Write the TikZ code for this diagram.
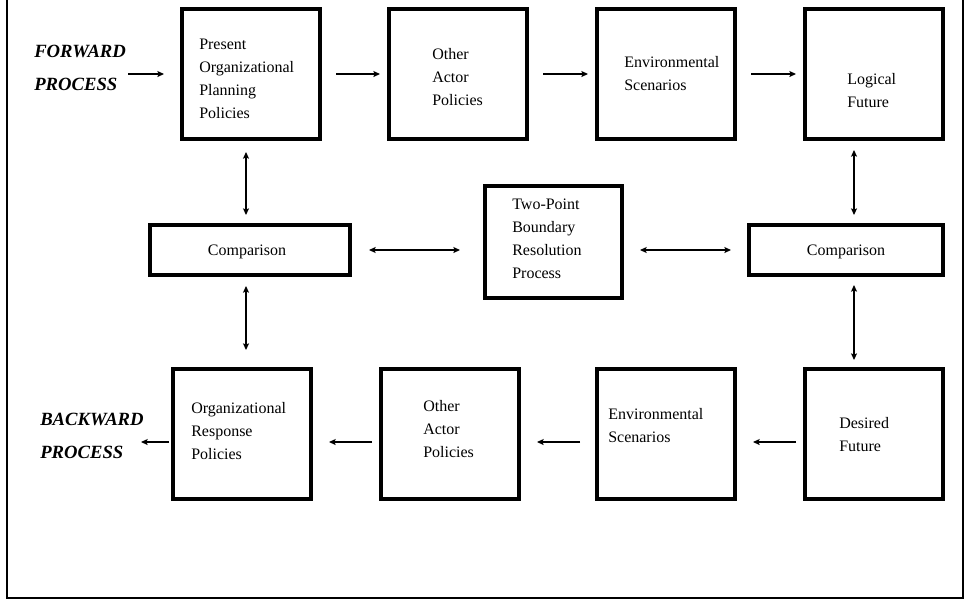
\documentclass[tikz,border=0pt]{standalone}
\usepackage{fontspec}
\setmainfont{Liberation Serif}
\usetikzlibrary{arrows.meta,calc}

\begin{document}
\begin{tikzpicture}[
  x=0.75pt, y=-0.75pt,
  box/.style={draw, line width=3pt, inner sep=0pt},
  tallbox/.style={box, minimum width=103.5pt, minimum height=97.5pt},
  txt/.style={anchor=north west, inner sep=0pt, align=left,
              font=\fontsize{12}{17.25}\selectfont},
  cmptxt/.style={anchor=base, inner sep=0pt, font=\fontsize{12}{14}\selectfont},
  proclbl/.style={anchor=north west, inner sep=0pt, align=left,
                  font=\fontsize{14}{25}\selectfont\bfseries\itshape},
  tip/.tip={Stealth[length=5pt,width=4.5pt,inset=1pt]},
  arr/.style={line width=0.8pt, -tip},
  darr/.style={line width=0.8pt, tip-tip}
]
\useasboundingbox (0,0) rectangle (966,601);

% outer frame (open at the top)
\draw[line width=1.5pt] (7,0) -- (7,598) -- (963,598) -- (963,0);

% forward process row
\node[tallbox] (B1) at (251,74) {};
\node[tallbox] (B2) at (458,74) {};
\node[tallbox] (B3) at (666,74) {};
\node[tallbox] (B4) at (874,74) {};
\node[txt] (tB1) at (199,39) {Present\\Organizational\\Planning\\Policies};
\node[txt] (tB2) at (432,48) {Other\\Actor\\Policies};
\node[txt] (tB3) at (624,56) {Environmental\\Scenarios};
\node[txt] (tB4) at (847,73) {Logical\\Future};

% comparison row
\node[box, minimum width=150pt, minimum height=37.5pt] (CL) at (250,250) {};
\node[box, minimum width=102.75pt, minimum height=84pt] (TP) at (553.5,242) {};
\node[box, minimum width=145.5pt, minimum height=37.5pt] (CR) at (846,250) {};
\node[cmptxt] (tCL) at (247,255) {Comparison};
\node[txt] (tTP) at (512,199) {Two-Point\\Boundary\\Resolution\\Process};
\node[cmptxt] (tCR) at (846,255) {Comparison};

% backward process row
\node[tallbox] (D1) at (242,434) {};
\node[tallbox] (D2) at (450,434) {};
\node[tallbox] (D3) at (666,434) {};
\node[tallbox] (D4) at (874,434) {};
\node[txt] (tD1) at (191,402) {Organizational\\Response\\Policies};
\node[txt] (tD2) at (423,400) {Other\\Actor\\Policies};
\node[txt] (tD3) at (608,408) {Environmental\\Scenarios};
\node[txt] (tD4) at (839,417) {Desired\\Future};

% process labels
\node[proclbl] (fwd) at (34,44.5) {FORWARD\\PROCESS};
\node[proclbl] (bwd) at (40,412.5) {BACKWARD\\PROCESS};

% forward arrows
\draw[arr] ($(B1.west -| fwd.east)+(2,0)$) -- ($(B1.west)+(-16,0)$);
\draw[arr] ($(B1.east)+(14,0)$) -- ($(B2.west)+(-7,0)$);
\draw[arr] ($(B2.east)+(14,0)$) -- ($(B3.west)+(-7,0)$);
\draw[arr] ($(B3.east)+(14,0)$) -- ($(B4.west)+(-7,0)$);

% links through the comparisons
\draw[darr] ($(B1.south)+(-5,11)$) -- ($(B1.south |- CL.north)+(-5,-8)$);
\draw[darr] ($(CL.south)+(-4,9)$) -- ($(CL.south |- D1.north)+(-4,-17)$);
\draw[darr] ($(CL.east)+(17,0)$) -- ($(CL.east -| TP.west)+(-23,0)$);
\draw[darr] ($(CR.west -| TP.east)+(16,0)$) -- ($(CR.west)+(-16,0)$);
\draw[darr] ($(CR.north |- B4.south)+(8,9)$) -- ($(CR.north)+(8,-8)$);
\draw[darr] ($(CR.south)+(8,8)$) -- ($(CR.south |- D4.north)+(8,-7)$);

% backward arrows
\draw[arr] ($(D4.west)+(-7,8)$) -- ($(D3.east)+(16,8)$);
\draw[arr] ($(D3.west)+(-15,8)$) -- ($(D2.east)+(16,8)$);
\draw[arr] ($(D2.west)+(-7,8)$) -- ($(D1.east)+(16,8)$);
\draw[arr] ($(D1.west)+(-2,8)$) -- ($(D1.west)+(-30,8)$);
\end{tikzpicture}
\end{document}
